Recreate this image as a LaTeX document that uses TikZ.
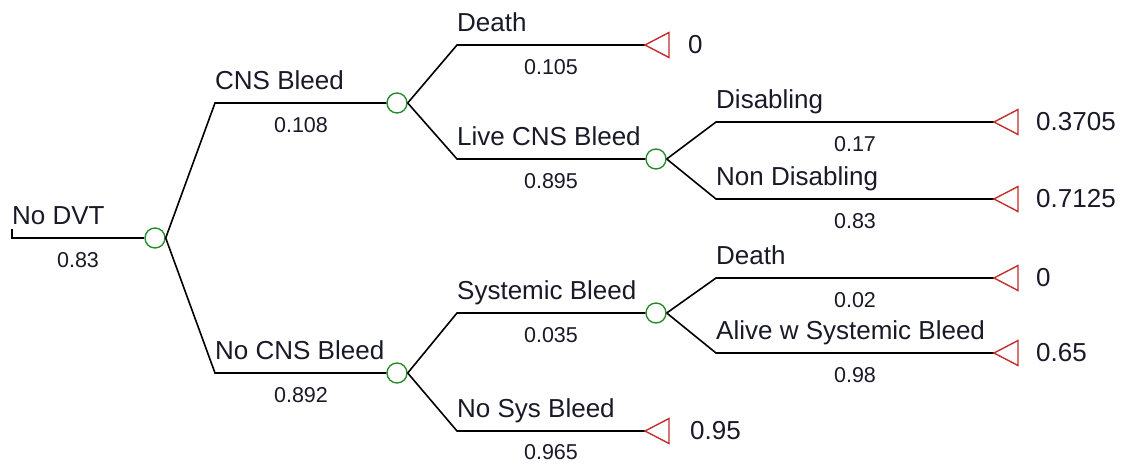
\documentclass[tikz,border=0pt]{standalone}
\usepackage{fontspec}
\setmainfont{Liberation Sans}
\definecolor{chancegreen}{RGB}{40,140,45}
\definecolor{termred}{RGB}{195,45,45}
\definecolor{txt}{RGB}{25,25,40}
\begin{document}
\begin{tikzpicture}[x=1pt,y=-1pt,
  edge/.style={line width=1.6pt,black},
  chance/.style={circle,draw=chancegreen,line width=1.4pt,minimum size=20pt,inner sep=0pt},
  term/.style={draw=termred,line width=1.4pt},
  lbl/.style={anchor=base west,inner sep=0pt,text=txt,font=\fontsize{26}{30}\selectfont},
  prob/.style={anchor=base,inner sep=0pt,text=txt,font=\fontsize{21.5}{26}\selectfont},
  val/.style={anchor=west,inner sep=0pt,text=txt,font=\fontsize{26}{30}\selectfont}]
\useasboundingbox (0,0) rectangle (1121,463);
% chance nodes
\node[chance] (c0) at (155,238) {};
\node[chance] (c1) at (397,103) {};
\node[chance] (c2) at (397,373) {};
\node[chance] (c3) at (656,159) {};
\node[chance] (c4) at (656,313) {};
% corner coordinates
\coordinate (r0) at (12,229);
\coordinate (r1) at (12,238);
\coordinate (b1) at (215,103);
\coordinate (b2) at (215,373);
\coordinate (b3) at (457,45);
\coordinate (b4) at (457,159);
\coordinate (b5) at (716,122);
\coordinate (b6) at (716,199);
\coordinate (b7) at (457,313);
\coordinate (b8) at (457,431);
\coordinate (b9) at (716,278);
\coordinate (b10) at (716,353);
% terminal apexes
\coordinate (t1) at (645,45);
\coordinate (t2) at (994,122);
\coordinate (t3) at (994,199);
\coordinate (t4) at (645,431);
\coordinate (t5) at (994,278);
\coordinate (t6) at (994,353);
% connectors
\draw[edge] (r0) -- (r1) -- (c0.west);
\draw[edge] (c0.east) -- (b1) -- (c1.west);
\draw[edge] (c0.east) -- (b2) -- (c2.west);
\draw[edge] (c1.east) -- (b3) -- (t1);
\draw[edge] (c1.east) -- (b4) -- (c3.west);
\draw[edge] (c3.east) -- (b5) -- (t2);
\draw[edge] (c3.east) -- (b6) -- (t3);
\draw[edge] (c2.east) -- (b7) -- (c4.west);
\draw[edge] (c2.east) -- (b8) -- (t4);
\draw[edge] (c4.east) -- (b9) -- (t5);
\draw[edge] (c4.east) -- (b10) -- (t6);
% terminal triangles
\foreach \t in {t1,t2,t3,t4,t5,t6}
  \draw[term] (\t) -- ++(24,-12.5) -- ++(0,25) -- cycle;
% branch labels
\node[lbl] (l0) at (12,224) {No DVT};
\node[lbl] (l1) at (215,89) {CNS Bleed};
\node[lbl] (l2) at (215,359) {No CNS Bleed};
\node[lbl] (l3) at (457,31) {Death};
\node[lbl] (l4) at (457,145) {Live CNS Bleed};
\node[lbl] (l5) at (716,108) {Disabling};
\node[lbl] (l6) at (716,185) {Non Disabling};
\node[lbl] (l7) at (457,299) {Systemic Bleed};
\node[lbl] (l8) at (457,417) {No Sys Bleed};
\node[lbl] (l9) at (716,264) {Death};
\node[lbl] (l10) at (716,339) {Alive w Systemic Bleed};
% probabilities
\node[prob] (p0) at (78,267) {0.83};
\node[prob] (p1) at (301,132) {0.108};
\node[prob] (p2) at (301,402) {0.892};
\node[prob] (p3) at (551,74) {0.105};
\node[prob] (p4) at (551,188) {0.895};
\node[prob] (p5) at (855,151) {0.17};
\node[prob] (p6) at (855,228) {0.83};
\node[prob] (p7) at (551,342) {0.035};
\node[prob] (p8) at (551,459) {0.965};
\node[prob] (p9) at (855,307) {0.02};
\node[prob] (p10) at (855,382) {0.98};
% payoffs
\node[val] (v1) at ([xshift=43pt]t1) {0};
\node[val] (v2) at ([xshift=42pt]t2) {0.3705};
\node[val] (v3) at ([xshift=42pt]t3) {0.7125};
\node[val] (v4) at ([xshift=45pt]t4) {0.95};
\node[val] (v5) at ([xshift=42pt]t5) {0};
\node[val] (v6) at ([xshift=42pt]t6) {0.65};
\end{tikzpicture}
\end{document}
